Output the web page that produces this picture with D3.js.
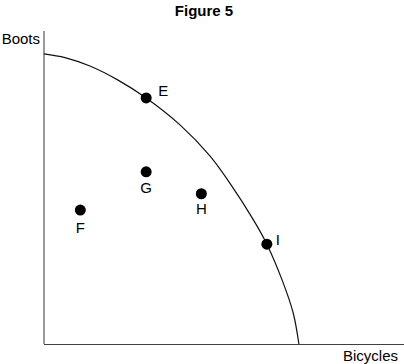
<!DOCTYPE html>
<html>
<head>
<meta charset="utf-8">
<script src="https://cdn.jsdelivr.net/npm/d3@7"></script>
<style>
  body { margin: 0; background: #fff; }
  text { font-family: "Liberation Sans", Arial, sans-serif; }
</style>
</head>
<body>
<svg id="chart" width="404" height="364"></svg>
<script>
// Production possibilities frontier (bicycles, boots)
var ppf_bicycles = [0, 0.59, 1.29, 2.08, 2.87, 3.82, 4.66, 5.22, 5.87, 6.26, 6.69, 7.00, 7.16];
var ppf_boots    = [9.27, 9.15, 8.88, 8.43, 7.86, 7.00, 6.01, 5.14, 3.99, 3.19, 2.04, 0.99, 0];

// Labelled points
var point_names    = ["E", "G", "H", "F", "I"];
var point_bicycles = [2.87, 2.87, 4.42, 1.02, 6.26];
var point_boots    = [7.86, 5.50, 4.80, 4.28, 3.19];

// Where each label sits relative to its dot
var label_pos = {
  E: { dx: 12, dy: -2,   anchor: "start" },
  I: { dx: 9,  dy: 1,    anchor: "start" },
  G: { dx: 0,  dy: 21.5, anchor: "middle" },
  H: { dx: 0,  dy: 20.5, anchor: "middle" },
  F: { dx: 0,  dy: 23,   anchor: "middle" }
};

var svg = d3.select("#chart");

var x = d3.scaleLinear().domain([0, 10]).range([44, 400]);
var y = d3.scaleLinear().domain([0, 10]).range([344, 31]);

// Title
svg.append("text")
   .attr("x", 204)
   .attr("y", 16)
   .attr("text-anchor", "middle")
   .attr("font-size", 15)
   .attr("font-weight", "bold")
   .text("Figure 5");

// Axes (plain lines, no ticks)
svg.append("line")
   .attr("x1", x(0)).attr("x2", x(0))
   .attr("y1", y(10)).attr("y2", y(0))
   .attr("stroke", "#808080")
   .attr("stroke-width", 1.6);

svg.append("line")
   .attr("x1", x(0)).attr("x2", 404)
   .attr("y1", y(0) + 0.5).attr("y2", y(0) + 0.5)
   .attr("stroke", "#404040")
   .attr("stroke-width", 1.2);

svg.append("text")
   .attr("x", 40)
   .attr("y", 44)
   .attr("text-anchor", "end")
   .attr("font-size", 15)
   .text("Boots");

svg.append("text")
   .attr("x", 398)
   .attr("y", 361)
   .attr("text-anchor", "end")
   .attr("font-size", 15)
   .text("Bicycles");

// Frontier curve
var curve_data = d3.zip(ppf_bicycles, ppf_boots);
var line = d3.line()
             .x(function (d) { return x(d[0]); })
             .y(function (d) { return y(d[1]); })
             .curve(d3.curveCatmullRom.alpha(0.5));

svg.append("path")
   .datum(curve_data)
   .attr("d", line)
   .attr("fill", "none")
   .attr("stroke", "#111")
   .attr("stroke-width", 1.2);

// Dots and labels
var pts = point_names.map(function (n, i) {
  return { name: n, bx: point_bicycles[i], by: point_boots[i] };
});

svg.selectAll("circle.pt")
   .data(pts)
   .enter().append("circle")
   .attr("class", "pt")
   .attr("cx", function (d) { return x(d.bx); })
   .attr("cy", function (d) { return y(d.by); })
   .attr("r", 5.5)
   .attr("fill", "#000");

svg.selectAll("text.lbl")
   .data(pts)
   .enter().append("text")
   .attr("class", "lbl")
   .attr("x", function (d) { return x(d.bx) + label_pos[d.name].dx; })
   .attr("y", function (d) { return y(d.by) + label_pos[d.name].dy; })
   .attr("text-anchor", function (d) { return label_pos[d.name].anchor; })
   .attr("font-size", 15)
   .text(function (d) { return d.name; });
</script>
</body>
</html>
